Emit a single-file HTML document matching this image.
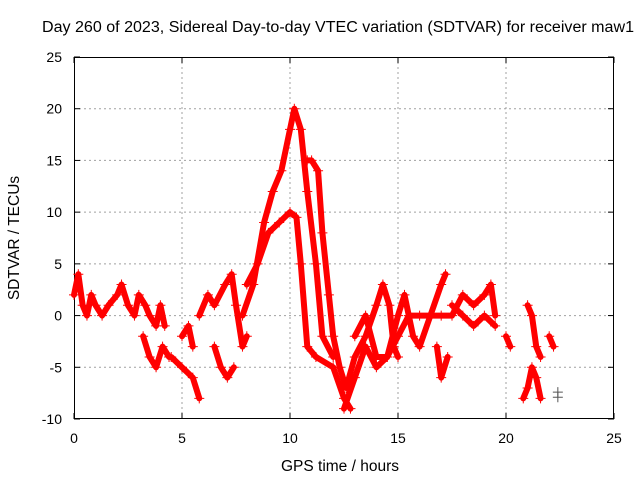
<!DOCTYPE html>
<html><head><meta charset="utf-8"><style>
body{margin:0;background:#fff;}
svg{display:block;font-family:"Liberation Sans",sans-serif;}
</style></head><body>
<svg id="chart" width="640" height="480">
<text x="42" y="32" font-size="15.5" text-anchor="start" textLength="592" lengthAdjust="spacingAndGlyphs">Day 260 of 2023, Sidereal Day-to-day VTEC variation (SDTVAR) for receiver maw1</text>
<g id="grid"></g>
<g id="axes"></g>
<g id="marks"></g>
<text x="340" y="471" font-size="15.5" text-anchor="middle">GPS time / hours</text>
<text transform="translate(19,238) rotate(-90)" font-size="15.5" text-anchor="middle">SDTVAR / TECUs</text>
</svg>
<script>
const xTicks=[0,5,10,15,20,25];
const yTicks=[-10,-5,0,5,10,15,20,25];
const traceA=[[0,2],[0.2,4],[0.4,1],[0.6,0],[0.8,2],[1,1],[1.3,0],[1.6,1],[2,2],[2.2,3],[2.5,1],[2.8,0],[3,2],[3.3,1],[3.5,0],[3.8,-1],[4,1],[4.2,-1]];
const traceB=[[3.2,-2],[3.5,-4],[3.8,-5],[4.1,-3],[4.4,-4]];
const traceC=[[4.5,-4],[5,-5],[5.5,-6],[5.8,-8]];
const traceC2=[[5,-2],[5.3,-1],[5.5,-3]];
const traceD=[[5.8,0],[6.2,2],[6.5,1],[7,3],[7.3,4],[7.5,1],[7.8,-3],[8,-2]];
const traceE=[[6.5,-3],[6.8,-5],[7.1,-6],[7.4,-5]];
const traceF=[[7.8,0],[8.3,3],[8.8,9],[9.2,12],[9.6,14],[10,18],[10.2,20],[10.5,18],[10.8,12],[11.2,5],[11.5,-2],[12,-4]];
const traceG=[[8,3],[8.5,5],[9,8],[9.5,9],[10,10],[10.3,9.5],[10.5,5],[10.8,-3],[11.2,-4],[12,-5],[12.5,-8],[12.8,-9]];
const traceH=[[10.8,15],[11,15],[11.3,14],[11.5,8],[11.8,2],[12,-2],[12.3,-5],[12.6,-7],[13,-4],[13.5,-2],[14,1],[14.3,3],[14.6,1],[14.8,-3],[15,-4]];
const traceI=[[12.5,-9],[13,-6],[13.5,-3],[14,-5],[14.5,-4],[15,0],[15.3,2],[15.7,-2],[16,-3],[16.5,0],[17,3],[17.2,4]];
const traceJ=[[13,-2],[13.5,0],[14,-4],[14.5,-4],[15,-2],[15.5,0],[16,0],[16.5,0],[17,0],[17.5,0],[18,2],[18.5,1],[19,2],[19.3,3],[19.5,0]];
const traceK=[[16.8,-3],[17,-6],[17.3,-4]];
const traceL=[[17.5,1],[18,0],[18.5,-1],[19,0],[19.5,-1]];
const traceM=[[20,-2],[20.2,-3]];
const traceN=[[20.8,-8],[21,-7],[21.2,-5],[21.4,-6],[21.6,-8]];
const traceO=[[21,1],[21.2,0],[21.4,-3],[21.6,-4]];
const traceP=[[22,-2],[22.2,-3]];
const traceQ=[[22.4,-7.4],[22.4,-7.9]];
const traces=[traceA,traceB,traceC,traceC2,traceD,traceE,traceF,traceG,traceH,traceI,traceJ,traceK,traceL,traceM,traceN,traceO,traceP,traceQ];

const X0=74,X1=614,Y0=419,Y1=57;
const sx=v=>X0+(v-0)/(25-0)*(X1-X0);
const sy=v=>Y0-(v+10)/(35)*(Y0-Y1);
const NS="http://www.w3.org/2000/svg";
function mk(tag,attrs,parent){const e=document.createElementNS(NS,tag);for(const k in attrs)e.setAttribute(k,attrs[k]);parent.appendChild(e);return e;}
const grid=document.getElementById('grid'),axes=document.getElementById('axes'),marks=document.getElementById('marks');
xTicks.forEach(t=>{
  const x=sx(t);
  if(t>0&&t<25){const l=mk('line',{x1:x,y1:Y1,x2:x,y2:Y0,stroke:'#a0a0a0','stroke-dasharray':'2,3','stroke-width':1},grid);
  
  }
  mk('line',{x1:x,y1:Y0,x2:x,y2:Y0-6,stroke:'#000'},axes);
  mk('line',{x1:x,y1:Y1,x2:x,y2:Y1+6,stroke:'#000'},axes);
  const tx=mk('text',{x:x,y:Y0+24,'font-size':14,'text-anchor':'middle'},axes);
  tx.textContent=t;
  
  
});
yTicks.forEach(t=>{
  const y=sy(t);
  if(t>-10&&t<25){const l=mk('line',{x1:X0,y1:y,x2:X1,y2:y,stroke:'#a0a0a0','stroke-dasharray':'2,3','stroke-width':1},grid);
  
  }
  mk('line',{x1:X0,y1:y,x2:X0+6,y2:y,stroke:'#000'},axes);
  mk('line',{x1:X1,y1:y,x2:X1-6,y2:y,stroke:'#000'},axes);
  const tx=mk('text',{x:X0-12,y:y+5,'font-size':14,'text-anchor':'end'},axes);
  tx.textContent=t;
  
  
});
const fr=mk('rect',{x:X0+0.5,y:Y1+0.5,width:X1-X0-1,height:Y0-Y1-1,fill:'none',stroke:'#000'},axes);


traces.forEach((tr,i)=>{
  const g=mk('g',{},marks);
  
  
  if(tr.length>1&&tr!==traceQ){
    const pl=mk('polyline',{points:tr.map(p=>sx(p[0])+','+sy(p[1])).join(' '),fill:'none',stroke:'#ff0000','stroke-width':6,'stroke-linejoin':'round','stroke-linecap':'round'},g);
    
    
  }
  tr.forEach(p=>{
    const x=sx(p[0]),y=sy(p[1]);
    const col=tr===traceQ?'#555':'#ff0000';
    const m=mk('path',{d:`M${x-5},${y}H${x+5}M${x},${y-5}V${y+5}`,stroke:col,'stroke-width':1},g);
    
    
  });
});
</script>
</body></html>
